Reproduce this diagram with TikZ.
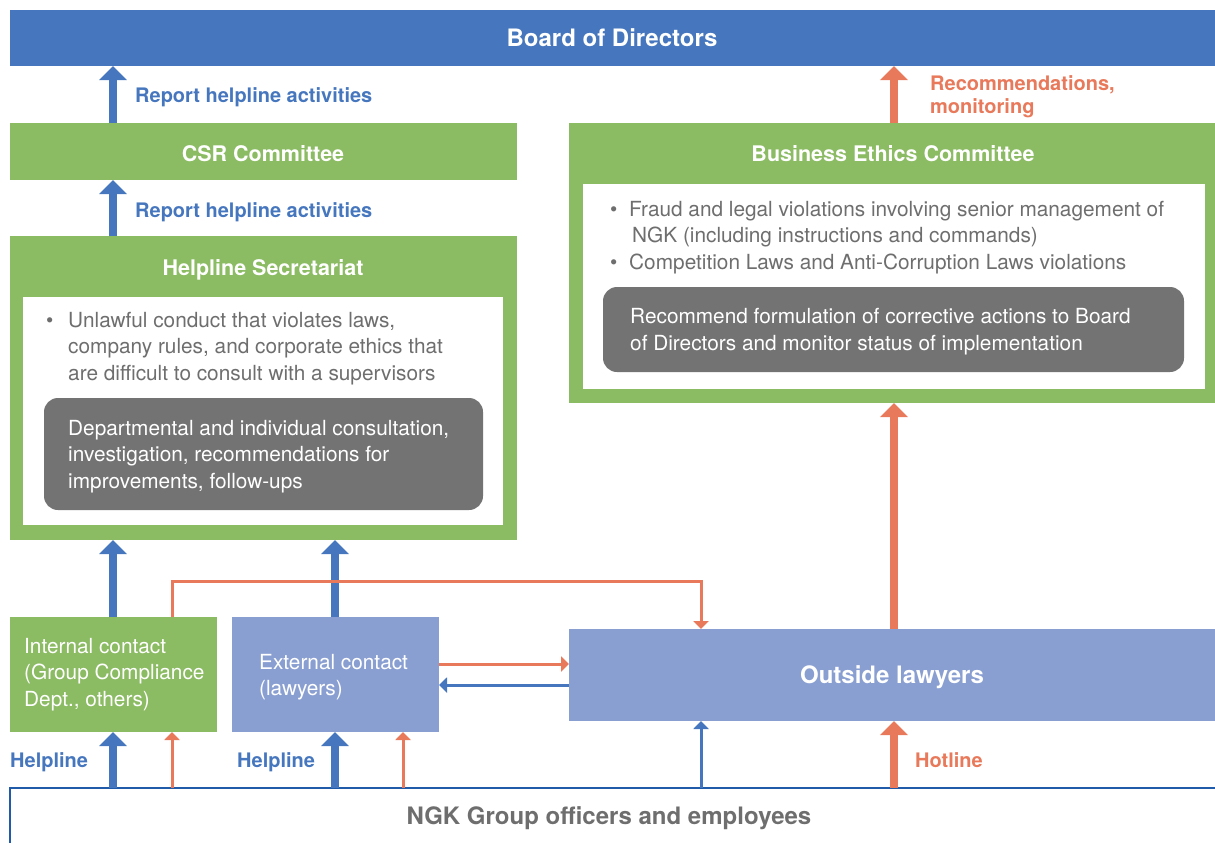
\documentclass[tikz,border=0pt]{standalone}
\usepackage{fontspec}
\setmainfont{TeX Gyre Heros}
\usetikzlibrary{arrows.meta,calc}
\definecolor{bblue}{HTML}{4677BE}
\definecolor{bgreen}{HTML}{8BBB62}
\definecolor{blav}{HTML}{8A9FD1}
\definecolor{borange}{HTML}{E8795A}
\definecolor{bgrey}{HTML}{737373}
\definecolor{tgrey}{HTML}{6E6E6E}
\definecolor{nblue}{HTML}{1F5BA8}
\begin{document}
\begin{tikzpicture}[x=1pt,y=-1pt,
  box/.style={anchor=north west, inner sep=0pt, outer sep=0pt, draw=none},
  titlefont/.style={font=\bfseries\fontsize{21.5}{24}\selectfont, text=white, inner sep=0pt, anchor=base},
  bigtitle/.style={font=\bfseries\fontsize{24}{28}\selectfont, inner sep=0pt, anchor=base},
  lbl/.style={font=\bfseries\fontsize{20}{23}\selectfont, inner sep=0pt, anchor=base west, align=left},
  body/.style={font=\fontsize{20.8}{26.5}\selectfont, inner sep=0pt, anchor=base west, align=left},
  thickarrow/.style={line width=7.5pt, -{Triangle[width=27pt,length=14pt]}},
  thinarrow/.style={line width=3pt, -{Triangle[width=15pt,length=8pt]}},
]
\useasboundingbox (0,0) rectangle (1215,843);
% column coordinates
\coordinate (c1) at (113,0);
\coordinate (c2) at (172,0);
\coordinate (c3) at (335,0);
\coordinate (c4) at (403,0);
\coordinate (c5) at (701,0);
\coordinate (c6) at (894,0);
\coordinate (r1) at (0,581);
\coordinate (r2) at (0,664);
\coordinate (r3) at (0,685);

% Board
\node[box, fill=bblue, minimum width=1205pt, minimum height=56pt] (bod) at (10,10) {};
\node[bigtitle, text=white] (bodt) at (612,47) {Board of Directors};
% CSR
\node[box, fill=bgreen, minimum width=507pt, minimum height=57pt] (csr) at (10,123) {};
\node[titlefont] (csrt) at (263,161.5) {CSR Committee};
% Helpline Secretariat
\node[box, fill=bgreen, minimum width=507pt, minimum height=304pt] (hs) at (10,236) {};
\node[titlefont] (hst) at (263,275) {Helpline Secretariat};
\node[box, fill=white, minimum width=480pt, minimum height=228pt] (hsi) at (23,297) {};
\node[body, text=tgrey] (hsb) at (46,327) {•};
\node[body, text=tgrey] (hsbt) at (68,380) {Unlawful conduct that violates laws,\\company rules, and corporate ethics that\\are difficult to consult with a supervisors};
\node[box, fill=bgrey, rounded corners=14pt, minimum width=439pt, minimum height=112pt] (hsg) at (44,398) {};
\node[body, text=white] (hsgt) at (68,488) {Departmental and individual consultation,\\investigation, recommendations for\\improvements, follow-ups};

% Business Ethics Committee
\node[box, fill=bgreen, minimum width=646pt, minimum height=280pt] (bec) at (569,123) {};
\node[titlefont] (bect) at (893,161) {Business Ethics Committee};
\node[box, fill=white, minimum width=622pt, minimum height=205pt] (beci) at (583,184) {};
\node[body, text=tgrey] (becb1) at (610,216) {•};
\node[body, text=tgrey] (becb1t) at (629,242.5) {Fraud and legal violations involving senior management of\\\hspace{3pt}NGK (including instructions and commands)};
\node[body, text=tgrey] (becb2) at (610,269) {•};
\node[body, text=tgrey] (becb2t) at (629,269) {Competition Laws and Anti-Corruption Laws violations};
\node[box, fill=bgrey, rounded corners=14pt, minimum width=581pt, minimum height=85pt] (becg) at (603,287) {};
\node[body, text=white] (becgt) at (630,350) {Recommend formulation of corrective actions to Board\\of Directors and monitor status of implementation};

% contacts
\node[box, fill=bgreen, minimum width=207pt, minimum height=115pt] (ic) at (10,617) {};
\node[body, text=white] (ict) at (24,706) {Internal contact\\(Group Compliance\\Dept., others)};
\node[box, fill=blav, minimum width=207pt, minimum height=115pt] (ec) at (232,617) {};
\node[body, text=white] (ect) at (259,695.5) {External contact\\(lawyers)};
\node[box, fill=blav, minimum width=646pt, minimum height=92pt] (ol) at (569,629) {};
\node[bigtitle, text=white] (olt) at (892,683) {Outside lawyers};

% NGK
\node[box, minimum width=1210pt, minimum height=60pt] (ngk) at (10,788) {};
\draw[nblue, line width=2pt] (ngk.south west) -- (ngk.north west) -- (ngk.north east);
\node[bigtitle, text=tgrey] (ngkt) at (609,824) {NGK Group officers and employees};

% labels
\node[lbl, text=bblue] (l1) at (135,102) {Report helpline activities};
\node[lbl, text=bblue] (l2) at (135,217) {Report helpline activities};
\node[lbl, text=borange] (l3) at (930,113.5) {Recommendations,\\monitoring};
\node[lbl, text=bblue] (l4) at (10,767) {Helpline};
\node[lbl, text=bblue] (l5) at (237,767) {Helpline};
\node[lbl, text=borange] (l6) at (915,767) {Hotline};

% arrows
\draw[thickarrow, bblue] (csr.north -| c1) -- (bod.south -| c1);
\draw[thickarrow, bblue] (hs.north -| c1) -- (csr.south -| c1);
\draw[thickarrow, bblue] (ic.north -| c1) -- (hs.south -| c1);
\draw[thickarrow, bblue] (ec.north -| c3) -- (hs.south -| c3);
\draw[thickarrow, borange] (bec.north -| c6) -- (bod.south -| c6);
\draw[thickarrow, borange] (ol.north -| c6) -- (bec.south -| c6);
\draw[thinarrow, borange] (ic.north -| c2) -- (r1 -| c2) -- (r1 -| c5) -- (ol.north -| c5);
\draw[thinarrow, borange] (ec.east |- r2) -- (ol.west |- r2);
\draw[thinarrow, bblue] (ol.west |- r3) -- (ec.east |- r3);

\draw[thickarrow, bblue] (ngk.north -| c1) -- (ic.south -| c1);
\draw[thinarrow, borange] (ngk.north -| c2) -- (ic.south -| c2);
\draw[thickarrow, bblue] (ngk.north -| c3) -- (ec.south -| c3);
\draw[thinarrow, borange] (ngk.north -| c4) -- (ec.south -| c4);
\draw[thinarrow, bblue] (ngk.north -| c5) -- (ol.south -| c5);
\draw[thickarrow, borange] (ngk.north -| c6) -- (ol.south -| c6);
\end{tikzpicture}
\end{document}
